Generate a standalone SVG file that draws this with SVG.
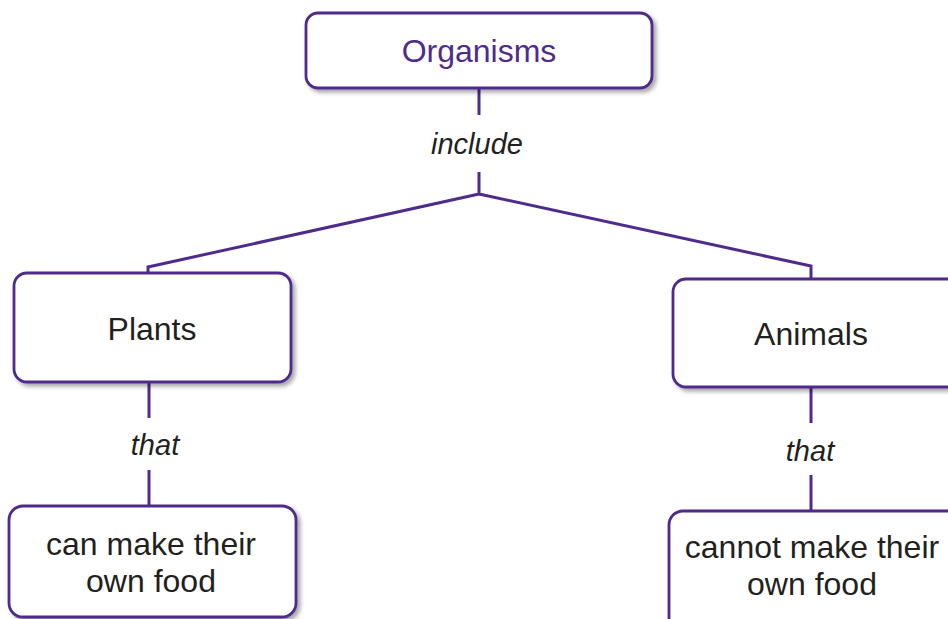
<svg xmlns="http://www.w3.org/2000/svg" width="948" height="619" viewBox="0 0 948 619">
<defs>
<filter id="sh" x="-10%" y="-10%" width="125%" height="130%">
<feDropShadow dx="3" dy="3" stdDeviation="2" flood-color="#000" flood-opacity="0.35"/>
</filter>
<style>
.box{fill:#fff;stroke:#4f2b8b;stroke-width:2.8;filter:url(#sh)}
.t{font-family:"Liberation Sans",Arial,sans-serif;font-size:32px;fill:#231f20;text-anchor:middle}
.p{fill:#4f2b8b}
.lbl{font-family:"Liberation Sans",Arial,sans-serif;font-size:29px;font-style:italic;fill:#231f20;text-anchor:middle}
.c{fill:none;stroke:#4f2b8b;stroke-width:3}
</style>
</defs>
<rect width="948" height="619" fill="#fff"/>
<g id="connectors">
<path class="c" d="M479 88 V115 M479 172 V194 L148 267 V273 M479 194 L811 266 V279"/>
<path class="c" d="M149 382 V418 M149 470 V506"/>
<path class="c" d="M811 387 V423 M811 475 V511"/>
<text class="lbl" x="477" y="154">include</text>
<text class="lbl" x="155" y="455">that</text>
<text class="lbl" x="810" y="461">that</text>
</g>
<g id="organisms">
<rect class="box" x="306" y="13" width="346" height="75" rx="12"/>
<text class="t p" x="479" y="62">Organisms</text>
</g>
<g id="plants">
<rect class="box" x="14" y="273" width="277" height="109" rx="13"/>
<text class="t" x="152" y="340">Plants</text>
</g>
<g id="animals">
<rect class="box" x="673" y="279" width="290" height="108" rx="13"/>
<text class="t" x="811" y="345">Animals</text>
</g>
<g id="can-make">
<rect class="box" x="9" y="506" width="287" height="111" rx="14"/>
<text class="t" x="151" y="555">can make their</text>
<text class="t" x="151" y="592">own food</text>
</g>
<g id="cannot-make">
<rect class="box" x="669" y="511" width="300" height="130" rx="14"/>
<text class="t" x="812" y="558">cannot make their</text>
<text class="t" x="812" y="595">own food</text>
</g>
</svg>
